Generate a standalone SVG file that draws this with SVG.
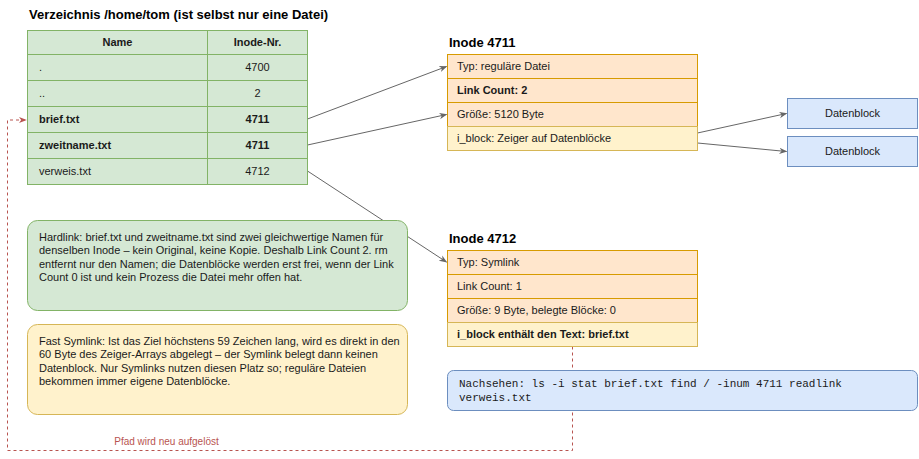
<svg xmlns="http://www.w3.org/2000/svg" width="919" height="459" viewBox="0 0 919 459">
<style>
text{font-family:"Liberation Sans",Arial,sans-serif;font-size:11px;fill:#1a1a1a}
.b{font-weight:bold}
.t{font-size:13px;font-weight:bold;fill:#000}
.mid{text-anchor:middle}
.g{fill:#d5e8d4;stroke:#82b366;stroke-width:1}
.o{fill:#ffe6cc;stroke:#d79b00;stroke-width:1}
.y{fill:#fff2cc;stroke:#d6b656;stroke-width:1}
.bl{fill:#dae8fc;stroke:#6c8ebf;stroke-width:1}
.ln{fill:none;stroke:#666;stroke-width:1}
.dash{fill:none;stroke:#b85450;stroke-width:1;stroke-dasharray:3 3}
.mono{font-family:"Liberation Mono","Courier New",monospace;font-size:11px}
</style>
<defs>
<marker id="ah" viewBox="0 0 10 10" refX="9" refY="5" markerWidth="8" markerHeight="8" orient="auto" markerUnits="userSpaceOnUse"><path d="M0,1 L10,5 L0,9 L3,5 Z" fill="#666"/></marker>
<marker id="ahr" viewBox="0 0 10 10" refX="9" refY="5" markerWidth="8" markerHeight="8" orient="auto" markerUnits="userSpaceOnUse"><path d="M0,1 L10,5 L0,9 L3,5 Z" fill="#b85450"/></marker>
</defs>
<rect width="919" height="459" fill="#fff"/>
<g id="connectors">
<line class="ln" x1="307.5" y1="119" x2="446.5" y2="66.5" marker-end="url(#ah)"/>
<line class="ln" x1="307.5" y1="145" x2="446.5" y2="114.5" marker-end="url(#ah)"/>
<line class="ln" x1="307.5" y1="171" x2="446.5" y2="262" marker-end="url(#ah)"/>
<line class="ln" x1="697.5" y1="133" x2="786.5" y2="113.5" marker-end="url(#ah)"/>
<line class="ln" x1="697.5" y1="143" x2="786.5" y2="151.5" marker-end="url(#ah)"/>
<path class="dash" d="M572.5,346.5 V450.5 H7.5 V120 H26" marker-end="url(#ahr)"/>
<text x="166.5" y="444.5" class="mid" style="font-size:10px;fill:#b85450">Pfad wird neu aufgelöst</text>
</g>
<g id="directory">
<text x="29" y="19" class="t">Verzeichnis /home/tom (ist selbst nur eine Datei)</text>
<rect class="g" x="27.5" y="30.5" width="180" height="24"/>
<rect class="g" x="207.5" y="30.5" width="100" height="24"/>
<rect class="g" x="27.5" y="54.5" width="180" height="26"/>
<rect class="g" x="207.5" y="54.5" width="100" height="26"/>
<rect class="g" x="27.5" y="80.5" width="180" height="26"/>
<rect class="g" x="207.5" y="80.5" width="100" height="26"/>
<rect class="g" x="27.5" y="106.5" width="180" height="26"/>
<rect class="g" x="207.5" y="106.5" width="100" height="26"/>
<rect class="g" x="27.5" y="132.5" width="180" height="26"/>
<rect class="g" x="207.5" y="132.5" width="100" height="26"/>
<rect class="g" x="27.5" y="158.5" width="180" height="26"/>
<rect class="g" x="207.5" y="158.5" width="100" height="26"/>
<text x="117.5" y="46" class="mid b">Name</text>
<text x="257.5" y="46" class="mid b">Inode-Nr.</text>
<text x="39" y="71">.</text>
<text x="257.5" y="71" class="mid">4700</text>
<text x="39" y="97">..</text>
<text x="257.5" y="97" class="mid">2</text>
<text x="39" y="123" class="b">brief.txt</text>
<text x="257.5" y="123" class="mid b">4711</text>
<text x="39" y="149" class="b">zweitname.txt</text>
<text x="257.5" y="149" class="mid b">4711</text>
<text x="39" y="175">verweis.txt</text>
<text x="257.5" y="175" class="mid">4712</text>
</g>
<g id="inode4711">
<text x="449" y="47" class="t">Inode 4711</text>
<rect class="o" x="447.5" y="54.5" width="250" height="24"/>
<rect class="o" x="447.5" y="78.5" width="250" height="24"/>
<rect class="o" x="447.5" y="102.5" width="250" height="24"/>
<rect class="y" x="447.5" y="126.5" width="250" height="24"/>
<text x="457" y="70">Typ: reguläre Datei</text>
<text x="457" y="94" class="b">Link Count: 2</text>
<text x="457" y="118">Größe: 5120 Byte</text>
<text x="457" y="142">i_block: Zeiger auf Datenblöcke</text>
</g>
<g id="datenblock1">
<rect class="bl" x="787.5" y="98.5" width="130" height="30"/>
<text x="852.5" y="117" class="mid">Datenblock</text>
</g>
<g id="datenblock2">
<rect class="bl" x="787.5" y="136.5" width="130" height="30"/>
<text x="852.5" y="155" class="mid">Datenblock</text>
</g>
<g id="hardlink-note">
<rect class="g" x="27.5" y="220.5" width="380" height="90" rx="10"/>
<text x="39" y="240.5">Hardlink: brief.txt und zweitname.txt sind zwei gleichwertige Namen für</text>
<text x="39" y="254">denselben Inode – kein Original, keine Kopie. Deshalb Link Count 2. rm</text>
<text x="39" y="267.5">entfernt nur den Namen; die Datenblöcke werden erst frei, wenn der Link</text>
<text x="39" y="281">Count 0 ist und kein Prozess die Datei mehr offen hat.</text>
</g>
<g id="symlink-note">
<rect class="y" x="27.5" y="324.5" width="380" height="90" rx="10"/>
<text x="39" y="344.5">Fast Symlink: Ist das Ziel höchstens 59 Zeichen lang, wird es direkt in den</text>
<text x="39" y="358">60 Byte des Zeiger-Arrays abgelegt – der Symlink belegt dann keinen</text>
<text x="39" y="371.5">Datenblock. Nur Symlinks nutzen diesen Platz so; reguläre Dateien</text>
<text x="39" y="385">bekommen immer eigene Datenblöcke.</text>
</g>
<g id="inode4712">
<text x="449" y="243" class="t">Inode 4712</text>
<rect class="o" x="447.5" y="250.5" width="250" height="24"/>
<rect class="o" x="447.5" y="274.5" width="250" height="24"/>
<rect class="o" x="447.5" y="298.5" width="250" height="24"/>
<rect class="y" x="447.5" y="322.5" width="250" height="24"/>
<text x="457" y="266">Typ: Symlink</text>
<text x="457" y="290">Link Count: 1</text>
<text x="457" y="314">Größe: 9 Byte, belegte Blöcke: 0</text>
<text x="457" y="338" class="b">i_block enthält den Text: brief.txt</text>
</g>
<g id="commands">
<rect class="bl" x="447.5" y="370.5" width="470" height="40" rx="6"/>
<text x="459" y="386.5" class="mono">Nachsehen: ls -i stat brief.txt find / -inum 4711 readlink</text>
<text x="459" y="400.5" class="mono">verweis.txt</text>
</g>
</svg>
